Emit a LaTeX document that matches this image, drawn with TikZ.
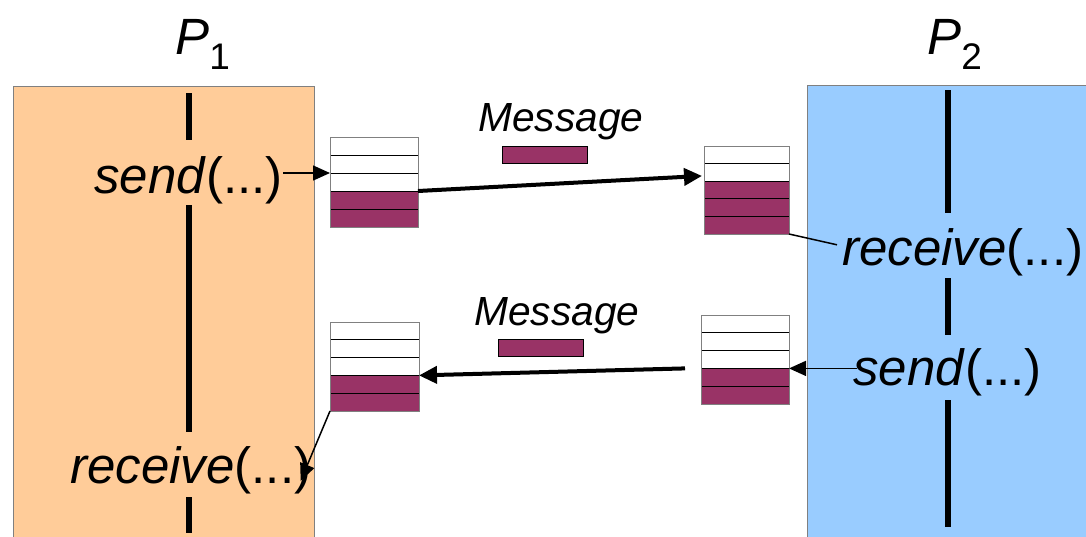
\documentclass[tikz,border=0pt]{standalone}
\usepackage{fontspec}
\setmainfont{Liberation Sans}
\usetikzlibrary{arrows.meta,calc}

\definecolor{peach}{HTML}{FFCC99}
\definecolor{sky}{HTML}{99CCFF}
\definecolor{msg}{HTML}{993366}
\definecolor{boxgray}{HTML}{808080}

% Five-slot buffer drawn inside node #1; the first #2 slots are empty
\newcommand\qcells[2]{%
  \foreach \i in {0,...,4}{%
    \pgfmathtruncatemacro\j{\i+1}%
    \ifnum\i<#2 \def\cellfill{white}\else\def\cellfill{msg}\fi
    \filldraw[fill=\cellfill, draw=black, line width=0.5pt]
      ($(#1.north west)!\i/5!(#1.south west)$) rectangle
      ($(#1.north east)!\j/5!(#1.south east)$);
  }%
  \draw[boxgray, line width=0.5pt] (#1.north west) rectangle (#1.south east);
}

\tikzset{
  proc/.style={draw=boxgray, line width=0.5pt},
  life/.style={line width=3pt},
  call/.style={font=\fontsize{25.5}{30}\selectfont, inner sep=0, anchor=base west},
  title/.style={font=\fontsize{25.5}{30}\selectfont, inner sep=0, anchor=base west},
  msglabel/.style={font=\fontsize{20.35}{24}\selectfont\itshape, inner sep=0, anchor=base west},
  queue/.style={rectangle, inner sep=0, outer sep=0},
  msgbar/.style={fill=msg, draw=black, line width=0.5pt, inner sep=0,
    minimum width=42.5pt, minimum height=8.5pt},
  link/.style={line width=0.75pt},
  callarrow/.style={line width=0.75pt, -{Triangle[length=8.5pt,width=7.5pt]}},
  msgflow/.style={line width=2pt, -{Triangle[length=9pt,width=8.5pt]}},
}

\begin{document}
\begin{tikzpicture}[x=0.5pt, y=-0.5pt]
\useasboundingbox (0,0) rectangle (1086,536);

% process areas
\fill[peach] (13,86) rectangle (314,540);
\draw[proc] (13,540) -- (13,86) -- (314,86) -- (314,540);
\fill[sky] (807,85) rectangle (1090,540);
\draw[proc] (807,540) -- (807,85) -- (1090,85);

% process titles
\node[title] (p1) at (175,54) {\textit{P}\raisebox{-7.5pt}{\fontsize{18.5}{20}\selectfont 1}};
\node[title] (p2) at (927,54) {\textit{P}\raisebox{-7.5pt}{\fontsize{18.5}{20}\selectfont 2}};

% lifelines
\draw[life] (189,93) -- (189,140);
\draw[life] (189,205) -- (189,432);
\draw[life] (189,497) -- (189,533);
\draw[life] (948,90) -- (948,213);
\draw[life] (948,278) -- (948,335);
\draw[life] (948,400) -- (948,527);

% calls
\node[call] (send1) at (94,193) {\textit{send}(...)};
\node[call, fill=peach, inner xsep=1.5pt, inner ysep=1pt] (recv1) at (67,483) {\textit{receive}(...)};
\node[call] (recv2) at (842,265) {\textit{receive}(...)};
\node[call] (send2) at (853,385) {\textit{send}(...)};

% buffers
\node[queue, minimum width=44pt, minimum height=45pt] (q1) at (374,182) {};
\node[queue, minimum width=42.5pt, minimum height=44pt] (q2) at (746.5,190) {};
\node[queue, minimum width=44.5pt, minimum height=44.5pt] (q3) at (374.5,366.5) {};
\node[queue, minimum width=44pt, minimum height=44.5pt] (q4) at (745,359.5) {};
\qcells{q1}{3}
\qcells{q2}{2}
\qcells{q3}{3}
\qcells{q4}{3}

% messages in transit
\node[msglabel] (lab1) at (478,131) {Message};
\node[msgbar] (m1) at (544.5,154.5) {};
\node[msglabel] (lab2) at (474,325) {Message};
\node[msgbar] (m2) at (540.5,347.5) {};

% connection points on the buffers
\coordinate (q1in) at ($(q1.north west)!0.4!(q1.south west)$);
\coordinate (q1out) at ($(q1.north east)!0.6!(q1.south east)$);
\coordinate (q2in) at ($(q2.north west)!0.34!(q2.south west)+(-2,0)$);
\coordinate (q4in) at ($(q4.north east)!0.6!(q4.south east)$);
\coordinate (q4out) at ($(q4.north west)!0.6!(q4.south west)+(-16,0)$);
\coordinate (q3in) at ($(q3.north east)!0.6!(q3.south east)$);
\coordinate (r1in) at ($(recv1.east)+(-14,11)$);
\coordinate (r2in) at ($(recv2.west)+(-5,-7)$);

% connectors
\draw[callarrow] (send1.east |- q1in) -- (q1in);
\draw[msgflow] (q1out) -- (q2in);
\draw[link] (q2.south east) -- (r2in);
\draw[callarrow] ($(send2.west |- q4in)+(4,0)$) -- (q4in);
\draw[msgflow] (q4out) -- (q3in);
\draw[callarrow] (q3.south west) -- (r1in);
\end{tikzpicture}
\end{document}
